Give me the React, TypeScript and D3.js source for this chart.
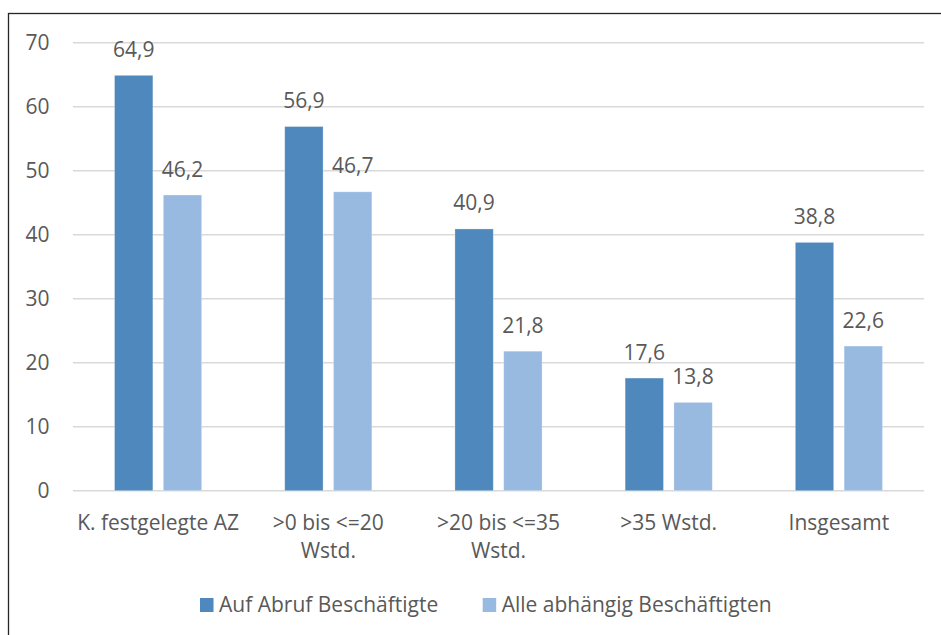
import React from "react";
import * as d3 from "d3";

const categories: string[][] = [
  ["K. festgelegte AZ"],
  [">0 bis <=20", "Wstd."],
  [">20 bis <=35", "Wstd."],
  [">35 Wstd."],
  ["Insgesamt"],
];
const seriesNames = ["Auf Abruf Beschäftigte", "Alle abhängig Beschäftigten"];
const aufAbruf = [64.9, 56.9, 40.9, 17.6, 38.8];
const alleAbhaengig = [46.2, 46.7, 21.8, 13.8, 22.6];
const yTicks = [0, 10, 20, 30, 40, 50, 60, 70];
const colors = ["#4F88BC", "#98B9E0"];

const W = 941;
const H = 635;
const FONT = "'Open Sans', 'Noto Sans', sans-serif";
const TEXT = "#595959";
const FS = 21;

export default function App() {
  const series = [aufAbruf, alleAbhaengig];
  const catKeys = categories.map((c) => c.join(" "));
  const x = d3.scaleBand<string>().domain(catKeys).range([73, 924]).padding(0);
  const y = d3.scaleLinear().domain([0, 70]).range([490.7, 42.7]);
  const groupW = x.bandwidth() * 0.512;
  const xs = d3
    .scaleBand<number>()
    .domain([0, 1])
    .range([0, groupW])
    .paddingInner(0.214)
    .paddingOuter(0);
  const fmt = (v: number) => v.toFixed(1).replace(".", ",");

  const legendItems = [
    { x: 200, name: seriesNames[0], color: colors[0] },
    { x: 482.7, name: seriesNames[1], color: colors[1] },
  ];

  return (
    <svg
      width={W}
      height={H}
      style={{ position: "absolute", left: 0, top: 0, background: "#fff" }}
      fontFamily={FONT}
    >
      <rect x={8.5} y={13.5} width={940} height={640} fill="#fff" stroke="#262626" strokeWidth={1.3} />
      {yTicks.map((t) => (
        <g key={t}>
          <line x1={73} x2={924} y1={y(t)} y2={y(t)} stroke="#D9D9D9" strokeWidth={1.4} />
          <text x={49.5} y={y(t)} dy="0.36em" textAnchor="end" fontSize={FS} fill={TEXT}>
            {t}
          </text>
        </g>
      ))}
      {catKeys.map((k, i) => {
        const gx = (x(k) as number) + (x.bandwidth() - groupW) / 2;
        return (
          <g key={k}>
            {series.map((s, j) => {
              const bx = gx + (xs(j) as number);
              const v = s[i];
              return (
                <g key={j}>
                  <rect
                    x={bx}
                    y={y(v)}
                    width={xs.bandwidth()}
                    height={y(0) - y(v)}
                    fill={colors[j]}
                    stroke="#fff"
                    strokeOpacity={0.35}
                    strokeWidth={0.8}
                  />
                  <text
                    x={bx + xs.bandwidth() / 2}
                    y={y(v) - 18.5}
                    textAnchor="middle"
                    fontSize={FS}
                    fill={TEXT}
                  >
                    {fmt(v)}
                  </text>
                </g>
              );
            })}
            {categories[i].map((line, li) => (
              <text
                key={li}
                x={(x(k) as number) + x.bandwidth() / 2}
                y={529.5 + li * 28.8}
                textAnchor="middle"
                fontSize={FS}
                fill={TEXT}
              >
                {line}
              </text>
            ))}
          </g>
        );
      })}
      {legendItems.map((it) => (
        <g key={it.name}>
          <rect x={it.x} y={598} width={13.5} height={14} fill={it.color} />
          <text x={it.x + 19} y={612} fontSize={FS} fill={TEXT}>
            {it.name}
          </text>
        </g>
      ))}
    </svg>
  );
}
